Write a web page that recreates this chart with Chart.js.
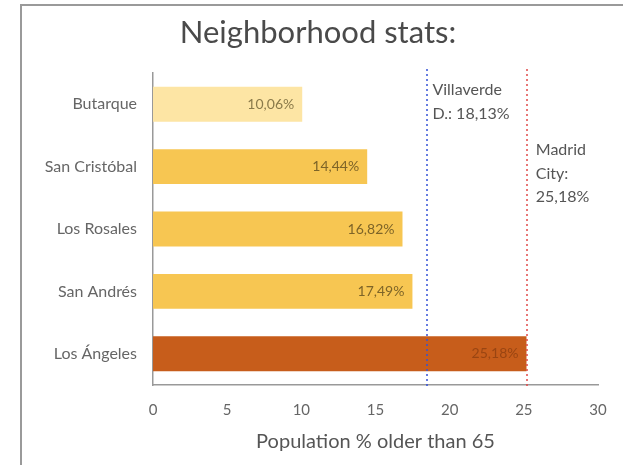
<!DOCTYPE html>
<html>
<head>
<meta charset="utf-8">
<script src="https://cdn.jsdelivr.net/npm/chart.js@4/dist/chart.umd.min.js"></script>
<style>
  html, body { margin: 0; padding: 0; background: #fff; }
  #wrap { width: 623px; height: 465px; position: relative; }
</style>
</head>
<body>
<div id="wrap"><canvas id="chart" width="623" height="465"></canvas></div>
<script>
// data
const neighborhoods = ['Butarque', 'San Cristóbal', 'Los Rosales', 'San Andrés', 'Los Ángeles'];
const olderThan65 = [10.06, 14.44, 16.82, 17.49, 25.18];
const valueLabels = ['10,06%', '14,44%', '16,82%', '17,49%', '25,18%'];
const barColors = ['#fde5a4', '#f7c652', '#f7c652', '#f7c652', '#c75d1b'];
const labelColors = ['#8a7a4a', '#7d6428', '#7d6428', '#7d6428', '#9a4512'];

// reference lines
const refValues = [18.5, 25.2];
const refLabels = [['Villaverde', 'D.: 18,13%'], ['Madrid', 'City:', '25,18%']];
const refColors = ['#3552d6', '#e04a4a'];

const chartTitle = 'Neighborhood stats:';
const FONT = 'Lato, "Open Sans", sans-serif';

const extras = {
  id: 'extras',
  beforeDraw(chart) {
    const ctx = chart.ctx;
    ctx.save();
    // frame lines of the original picture
    ctx.strokeStyle = '#9a9a9a';
    ctx.lineWidth = 2;
    ctx.beginPath();
    ctx.moveTo(21, 465);
    ctx.lineTo(21, 5);
    ctx.lineTo(623, 5);
    ctx.stroke();
    // title
    ctx.font = '31px ' + FONT;
    ctx.fillStyle = '#4a4a4a';
    ctx.textAlign = 'center';
    ctx.textBaseline = 'middle';
    ctx.fillText(chartTitle, 318, 33);
    ctx.restore();
  },
  afterDatasetsDraw(chart) {
    const ctx = chart.ctx;
    const x = chart.scales.x, y = chart.scales.y;
    const meta = chart.getDatasetMeta(0);
    ctx.save();
    // value labels inside bars
    ctx.font = '14px ' + FONT;
    ctx.textAlign = 'right';
    ctx.textBaseline = 'middle';
    meta.data.forEach((bar, i) => {
      ctx.fillStyle = labelColors[i];
      ctx.fillText(valueLabels[i], bar.x - 8, bar.y);
    });
    // dotted reference lines
    ctx.lineWidth = 1.5;
    ctx.setLineDash([2, 3]);
    refValues.forEach((v, i) => {
      const px = Math.round(x.getPixelForValue(v));
      ctx.strokeStyle = refColors[i];
      ctx.beginPath();
      ctx.moveTo(px, y.top - 4);
      ctx.lineTo(px, y.bottom + 4);
      ctx.stroke();
    });
    ctx.setLineDash([]);
    // reference labels
    ctx.font = '16px ' + FONT;
    ctx.textAlign = 'left';
    ctx.fillStyle = '#555';
    const starts = [90, 150];
    refLabels.forEach((lines, i) => {
      const px = x.getPixelForValue(refValues[i]) + (i === 0 ? 5 : 9);
      lines.forEach((t, j) => ctx.fillText(t, px, starts[i] + j * 23.5));
    });
    ctx.restore();
  }
};

new Chart(document.getElementById('chart'), {
  type: 'bar',
  data: {
    labels: neighborhoods,
    datasets: [{
      data: olderThan65,
      backgroundColor: barColors,
      borderWidth: 0,
      barPercentage: 0.56,
      categoryPercentage: 1
    }]
  },
  options: {
    indexAxis: 'y',
    responsive: false,
    animation: false,
    layout: { padding: { left: 0, right: 25, top: 73, bottom: 0 } },
    scales: {
      x: {
        min: 0,
        max: 30,
        ticks: { stepSize: 5, color: '#666', font: { family: FONT, size: 15 }, padding: 16 },
        grid: { display: false, drawTicks: false },
        border: { color: '#999', width: 1.5 },
        title: {
          display: true,
          text: 'Population % older than 65',
          color: '#555',
          font: { family: FONT, size: 20 },
          padding: { top: 0, bottom: 11 }
        },
        afterFit(scale) { scale.height = 80; }
      },
      y: {
        ticks: { color: '#666', font: { family: FONT, size: 16 }, padding: 16 },
        grid: { display: false, drawTicks: false },
        border: { color: '#999', width: 1.5 },
        afterFit(scale) { scale.width = 153; }
      }
    },
    plugins: {
      legend: { display: false },
      tooltip: { enabled: false },
      title: { display: false }
    }
  },
  plugins: [extras]
});
</script>
</body>
</html>
